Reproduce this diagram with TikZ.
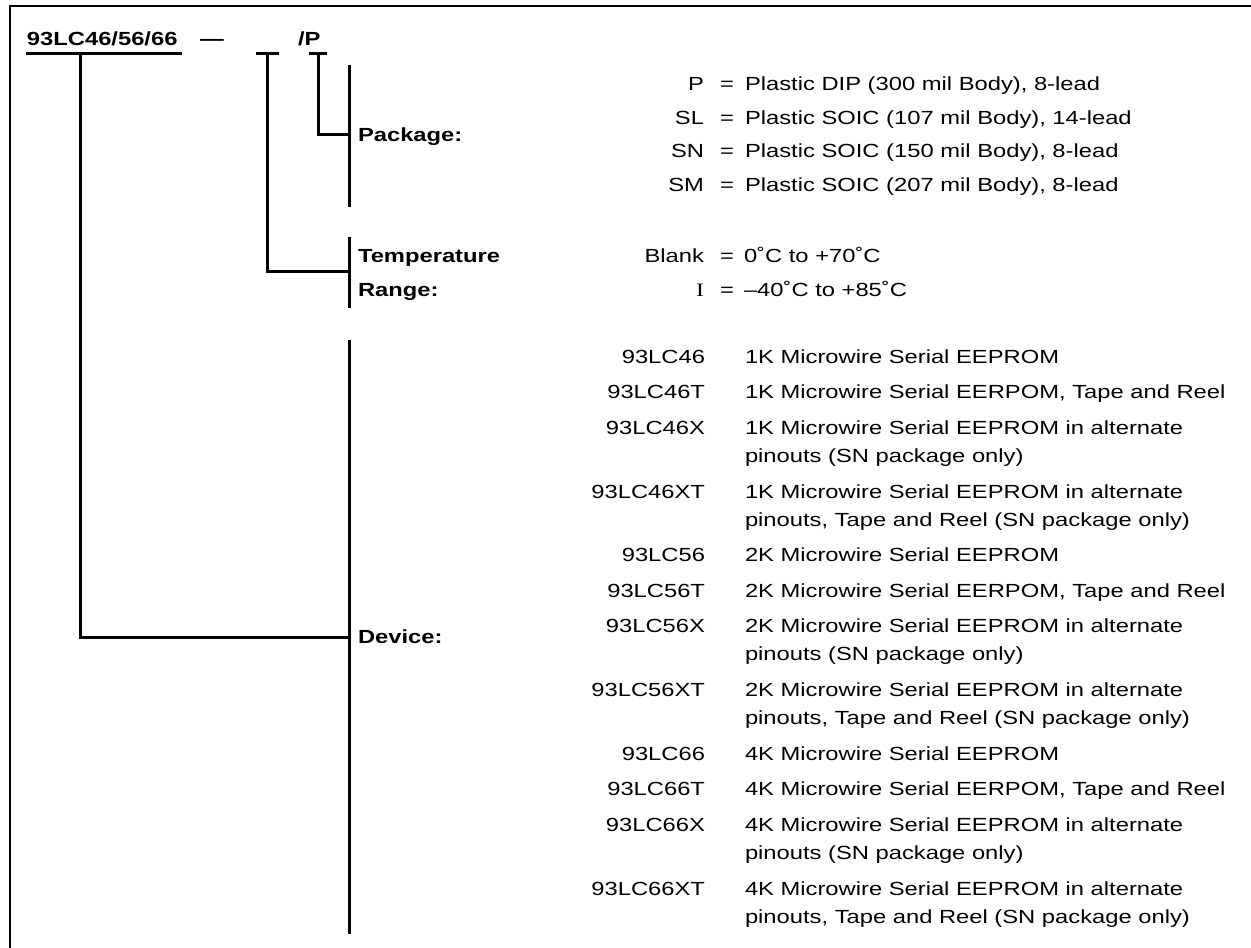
\documentclass[tikz,border=0pt]{standalone}
\usepackage{fontspec}
\setmainfont{Liberation Sans}[FakeStretch=1.25]
\newfontfamily\serifI{Liberation Serif}[FakeStretch=1.25]
\tikzset{
  txt/.style={inner sep=0pt, outer sep=0pt, font=\fontsize{19}{22}\selectfont},
  code/.style={txt, anchor=base east},
  desc/.style={txt, anchor=base west},
  lab/.style={txt, anchor=base west, font=\fontsize{19}{22}\selectfont\bfseries},
  ln/.style={line width=3pt, line cap=butt},
  frame/.style={line width=2pt}
}
\begin{document}
\begin{tikzpicture}[x=1pt, y=-1pt]
\useasboundingbox (0,0) rectangle (1251,948);
% frame
\coordinate (fr1) at (1260,6);
\coordinate (fr2) at (10,6);
\coordinate (fr3) at (10,960);
\draw[frame] (fr1) -- (fr2) -- (fr3);

% part number
\node[lab] (title) at (27,45) {93LC46/56/66};
\node[lab] (dash) at (200,45) {—};
\node[lab] (slashp) at (298,45) {/P};

% brackets
\coordinate (u1) at (26,53);  \coordinate (u2) at (182,53);
\coordinate (m0) at (80,53);
\coordinate (t1) at (256,53); \coordinate (t2) at (279,53); \coordinate (t0) at (267,53);
\coordinate (p1) at (309,53); \coordinate (p2) at (327,53); \coordinate (p0) at (318,53);

\coordinate (pkA) at (349,65);  \coordinate (pkB) at (349,207); \coordinate (pkM) at (349,134);
\coordinate (tpA) at (349,237); \coordinate (tpB) at (349,308); \coordinate (tpM) at (349,271);
\coordinate (dvA) at (349,340); \coordinate (dvB) at (349,934); \coordinate (dvM) at (349,637);

\draw[ln] (u1) -- (u2);
\draw[ln] (t1) -- (t2);
\draw[ln] (p1) -- (p2);
\draw[ln] (m0) |- (dvM);
\draw[ln] (t0) |- (tpM);
\draw[ln] (p0) |- (pkM);
\draw[ln] (pkA) -- (pkB);
\draw[ln] (tpA) -- (tpB);
\draw[ln] (dvA) -- (dvB);

% labels
\node[lab] (lpk) at (358,141) {Package:};
\node[lab] (ltp1) at (358,262) {Temperature};
\node[lab] (ltp2) at (358,296) {Range:};
\node[lab] (ldv) at (358,643) {Device:};

% package options
\node[code] (cP)  at (704,90)  {P};
\node[code] (cSL) at (704,124) {SL};
\node[code] (cSN) at (704,157) {SN};
\node[code] (cSM) at (704,191) {SM};
\node[desc] (eP)  at (720,90)  {=};
\node[desc] (eSL) at (720,124) {=};
\node[desc] (eSN) at (720,157) {=};
\node[desc] (eSM) at (720,191) {=};
\node[desc] (dP)  at (745,90)  {Plastic DIP (300 mil Body), 8-lead};
\node[desc] (dSL) at (745,124) {Plastic SOIC (107 mil Body), 14-lead};
\node[desc] (dSN) at (745,157) {Plastic SOIC (150 mil Body), 8-lead};
\node[desc] (dSM) at (745,191) {Plastic SOIC (207 mil Body), 8-lead};

% temperature options
\node[code] (cB) at (704,262) {Blank};
\node[code] (cI) at (704,296) {\serifI I};
\node[desc] (eB) at (720,262) {=};
\node[desc] (eI) at (720,296) {=};
\node[desc] (dB) at (744,262) {0˚C to +70˚C};
\node[desc] (dI) at (744,296) {–40˚C to +85˚C};

% device options
\node[code] (c1)  at (705,363)   {93LC46};
\node[desc] (d1)  at (745,363)   {1K Microwire Serial EEPROM};
\node[code] (c2)  at (705,398.5) {93LC46T};
\node[desc] (d2)  at (745,398.5) {1K Microwire Serial EERPOM, Tape and Reel};
\node[code] (c3)  at (705,434)   {93LC46X};
\node[desc] (d3)  at (745,434)   {1K Microwire Serial EEPROM in alternate};
\node[desc] (d3b) at (745,462)   {pinouts (SN package only)};
\node[code] (c4)  at (705,498)   {93LC46XT};
\node[desc] (d4)  at (745,498)   {1K Microwire Serial EEPROM in alternate};
\node[desc] (d4b) at (745,526)   {pinouts, Tape and Reel (SN package only)};
\node[code] (c5)  at (705,561)   {93LC56};
\node[desc] (d5)  at (745,561)   {2K Microwire Serial EEPROM};
\node[code] (c6)  at (705,597)   {93LC56T};
\node[desc] (d6)  at (745,597)   {2K Microwire Serial EERPOM, Tape and Reel};
\node[code] (c7)  at (705,632)   {93LC56X};
\node[desc] (d7)  at (745,632)   {2K Microwire Serial EEPROM in alternate};
\node[desc] (d7b) at (745,660)   {pinouts (SN package only)};
\node[code] (c8)  at (705,696)   {93LC56XT};
\node[desc] (d8)  at (745,696)   {2K Microwire Serial EEPROM in alternate};
\node[desc] (d8b) at (745,724)   {pinouts, Tape and Reel (SN package only)};
\node[code] (c9)  at (705,760)   {93LC66};
\node[desc] (d9)  at (745,760)   {4K Microwire Serial EEPROM};
\node[code] (c10) at (705,795)   {93LC66T};
\node[desc] (d10) at (745,795)   {4K Microwire Serial EERPOM, Tape and Reel};
\node[code] (c11) at (705,831)   {93LC66X};
\node[desc] (d11) at (745,831)   {4K Microwire Serial EEPROM in alternate};
\node[desc] (d11b) at (745,859)  {pinouts (SN package only)};
\node[code] (c12) at (705,895)   {93LC66XT};
\node[desc] (d12) at (745,895)   {4K Microwire Serial EEPROM in alternate};
\node[desc] (d12b) at (745,923)  {pinouts, Tape and Reel (SN package only)};
\end{tikzpicture}
\end{document}
